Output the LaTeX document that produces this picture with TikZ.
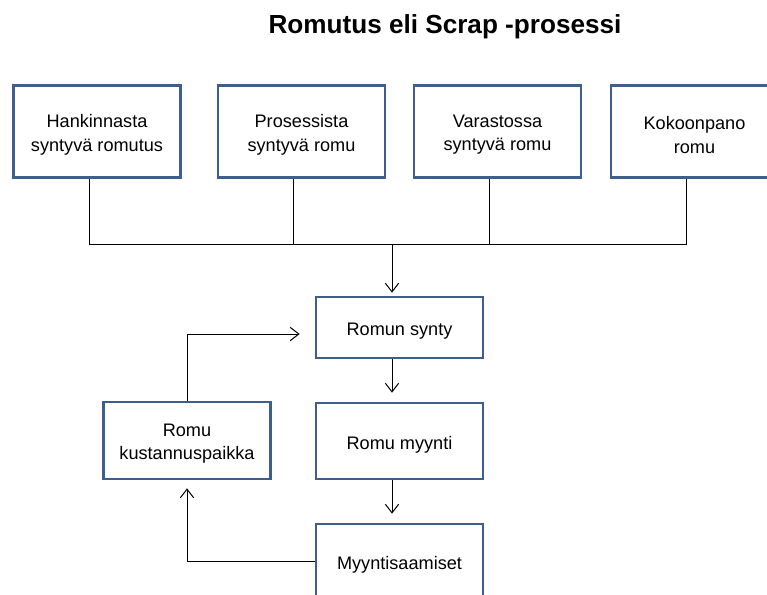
\documentclass[tikz,border=0pt]{standalone}
\usepackage{fontspec}
\setmainfont{Liberation Sans}
\usetikzlibrary{arrows.meta}
\definecolor{boxblue}{RGB}{62,94,142}
\begin{document}
\begin{tikzpicture}[x=0.75pt,y=-0.75pt,
  procbox/.style={draw=boxblue,line width=2pt,fill=white,rectangle,
    minimum width=167*0.75pt,inner sep=0pt},
  boxtext/.style={align=center,inner sep=0pt,yshift=-2.5pt,
    font=\fontsize{13.6pt}{17.6pt}\selectfont},
  link/.style={draw=black,line width=0.75pt},
  flow/.style={link,-{Straight Barb[length=6.5pt,width=10pt,line width=0.75pt]}}]
\useasboundingbox (0,0) rectangle (767,594);
\clip (0,0) rectangle (767,594);

% title
\node (title) at (445,27) {\fontsize{19.6pt}{23pt}\selectfont\bfseries Romutus eli Scrap -prosessi};

% sources of scrap
\node[procbox,minimum height=92*0.75pt,label={[boxtext]center:Hankinnasta\\syntyvä romutus}] (b1) at (97,131.5) {};
\node[procbox,minimum height=92*0.75pt,label={[boxtext]center:Prosessista\\syntyvä romu}] (b2) at (301.5,131.5) {};
\node[procbox,minimum height=92*0.75pt,label={[boxtext]center:Varastossa\\syntyvä romu}] (b3) at (497.5,131.5) {};
\node[procbox,minimum height=92*0.75pt,label={[boxtext]center:Kokoonpano\\romu}] (b4) at (694.5,131.5) {};

% main flow
\node[procbox,minimum height=61*0.75pt,label={[boxtext]center:Romun synty}] (synty) at (399.5,327.5) {};
\node[procbox,minimum height=76*0.75pt,label={[boxtext]center:Romu myynti}] (myynti) at (399.5,441) {};
\node[procbox,minimum height=74*0.75pt,label={[boxtext]center:Myyntisaamiset}] (saam) at (399.5,561) {};
\node[procbox,minimum height=77*0.75pt,label={[boxtext]center:Romu\\kustannuspaikka}] (kust) at (187,440.5) {};

% collecting bus
\coordinate (busL) at (89,244);
\coordinate (busR) at (686,244);
\coordinate (busM) at (392,244);
\draw[link] (b1.south -| busL) -- (busL) -- (busR) -- (b4.south -| busR);
\draw[link] ([xshift=-8*0.75pt]b2.south) -- ([xshift=-8*0.75pt]b2.south |- busL);
\draw[link] ([xshift=-8*0.75pt]b3.south) -- ([xshift=-8*0.75pt]b3.south |- busL);
\draw[flow,shorten >=3*0.75pt] (busM) -- (busM |- synty.north);

% arrows down the main flow
\draw[flow,shorten >=9*0.75pt] (synty.south -| busM) -- (myynti.north -| busM);
\draw[flow,shorten >=9*0.75pt] (myynti.south -| busM) -- (saam.north -| busM);

% feedback loop
\draw[flow,shorten >=8*0.75pt] (saam.west) -| (kust.south);
\coordinate (loopTop) at (187,334);
\draw[flow,shorten >=15*0.75pt] (kust.north) -- (loopTop) -- (loopTop -| synty.west);
\end{tikzpicture}
\end{document}
